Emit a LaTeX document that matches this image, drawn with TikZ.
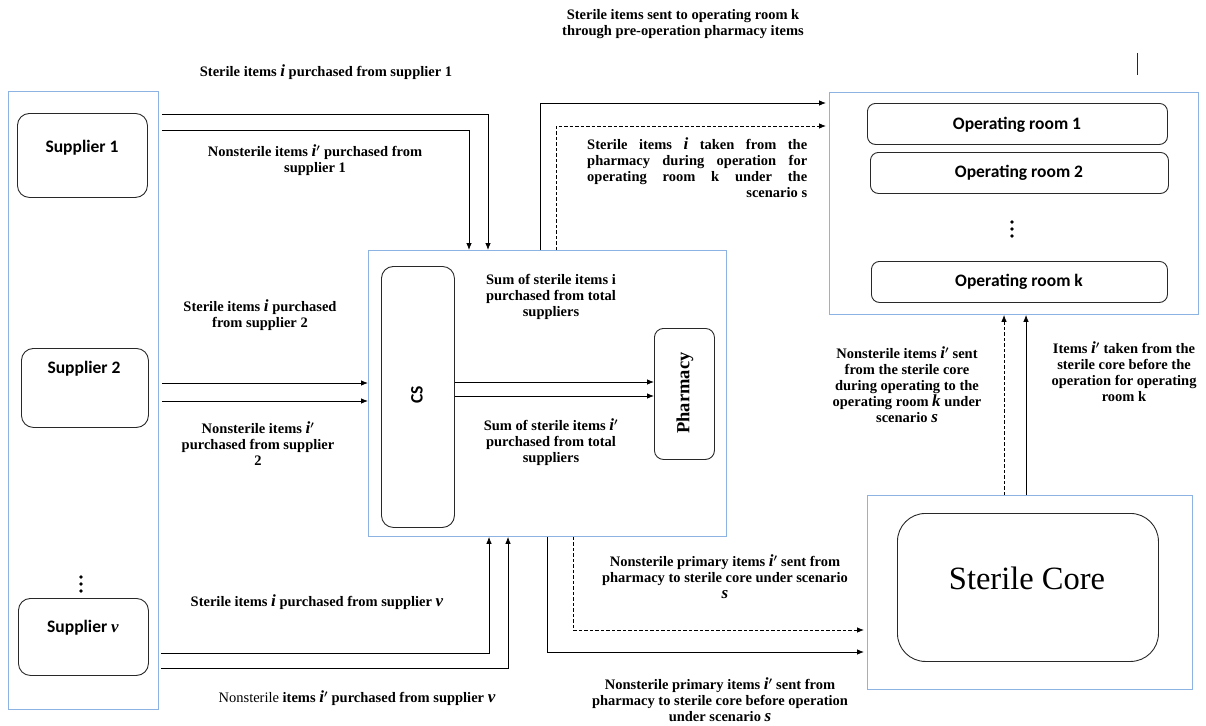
\documentclass[tikz,border=0pt]{standalone}
\usepackage{fontspec}
\setmainfont{Liberation Serif}
\newfontfamily\boxfont{Carlito}
\usetikzlibrary{arrows.meta}
% bold italic symbols used in the flow labels
\newcommand\mv[1]{{\rmfamily\fontsize{17}{16}\selectfont\bfseries\itshape #1}}
\newcommand\ipr{\mv{i}\mbox{\boldmath$'$}}
\definecolor{frameblue}{RGB}{141,179,226}
\definecolor{edge}{RGB}{40,40,40}
\begin{document}
\begin{tikzpicture}[x=1pt,y=-1pt,
  group/.style={draw=frameblue, line width=0.9pt, minimum width=#1, anchor=north west, inner sep=0pt},
  unit/.style={draw=edge, line width=0.9pt, rounded corners=12pt, anchor=north west, inner sep=0pt},
  unitlabel/.style={font=\boxfont\bfseries\fontsize{17.5}{18}\selectfont, inner sep=0pt},
  flowlabel/.style={font=\bfseries\fontsize{14.5}{16}\selectfont, align=center, inner sep=0pt},
  flow/.style={draw=black, line width=0.8pt, -{Latex[length=7pt,width=5.5pt]}},
  flowdash/.style={flow, dash pattern=on 3.5pt off 2pt},
  dot/.style={circle, fill=black, inner sep=0pt, minimum size=3.6pt}
]
\useasboundingbox (0,0) rectangle (1206,725);

% ---------------- suppliers ----------------
\node[group=150pt, minimum height=618pt] (lbox) at (8,91) {};
\node[unit, minimum width=130pt, minimum height=84pt] (sup1) at (17,113) {};
\node[unitlabel] (sup1t) at (82,148) {Supplier 1};
\node[unit, minimum width=127pt, minimum height=79pt] (sup2) at (21,348) {};
\node[unitlabel] (sup2t) at (84,369) {Supplier 2};
\node[unit, minimum width=130pt, minimum height=77pt] (supv) at (18,598) {};
\node[unitlabel] (supvt) at (83,628) {Supplier \mv{v}};
\node[dot] (ld1) at (81,577) {};
\node[dot] (ld2) at (81,584) {};
\node[dot] (ld3) at (81,591) {};

% ---------------- central store ----------------
\node[group=358pt, minimum height=286pt] (csbox) at (368,250) {};
\node[unit, minimum width=73pt, minimum height=261pt] (cs) at (381,266) {};
\node[unitlabel, rotate=90] (cst) at (417,395) {CS};
\node[unit, rounded corners=9pt, minimum width=60pt, minimum height=131pt] (ph) at (654,328) {};
\node[font=\bfseries\fontsize{18.5}{20}\selectfont, rotate=90, inner sep=0pt] (pht) at (685,393) {Pharmacy};

% ---------------- operating rooms ----------------
\node[group=369pt, minimum height=222pt] (orbox) at (829,92) {};
\node[unit, rounded corners=8pt, minimum width=300pt, minimum height=41pt] (or1) at (867,103) {};
\node[unitlabel] (or1t) at (1017,125) {Operating room 1};
\node[unit, rounded corners=8pt, minimum width=298pt, minimum height=41pt] (or2) at (870,152) {};
\node[unitlabel] (or2t) at (1019,173) {Operating room 2};
\node[unit, rounded corners=8pt, minimum width=296pt, minimum height=41pt] (ork) at (871,261) {};
\node[unitlabel] (orkt) at (1019,282) {Operating room k};
\node[dot] (od1) at (1012,222) {};
\node[dot] (od2) at (1012,229) {};
\node[dot] (od3) at (1012,236) {};
\draw[edge, line width=0.9pt] (1137,53) -- (1137,75);

% ---------------- sterile core ----------------
\node[group=325pt, minimum height=194pt] (scbox) at (867,495) {};
\node[unit, rounded corners=28pt, minimum width=261pt, minimum height=148pt] (sc) at (897,513) {};
\node[font=\fontsize{32.5}{34}\selectfont, inner sep=0pt] (sct) at (1027,578) {Sterile Core};

% ---------------- flows from suppliers ----------------
\draw[flow] ([xshift=3pt]lbox.east |- 0,114) -| ([xshift=120pt]csbox.north west);
\draw[flow] ([xshift=3pt]lbox.east |- 0,130) -| ([xshift=101pt]csbox.north west);
\draw[flow] ([xshift=3pt]lbox.east |- 0,383) -- (csbox.west |- 0,383);
\draw[flow] ([xshift=3pt]lbox.east |- 0,401) -- (csbox.west |- 0,401);
\draw[flow] ([xshift=2pt]lbox.east |- 0,653) -| ([xshift=121pt]csbox.south west);
\draw[flow] ([xshift=2pt]lbox.east |- 0,668) -| ([xshift=140pt]csbox.south west);

% ---------------- CS to pharmacy ----------------
\draw[flow] (cs.east |- 0,382) -- (ph.west |- 0,382);
\draw[flow] (cs.east |- 0,396) -- (ph.west |- 0,396);

% ---------------- pharmacy to operating rooms ----------------
\draw[flow] ([xshift=172pt]csbox.north west) |- ([xshift=-3pt]orbox.west |- 0,103);
\draw[flowdash] ([xshift=188pt]csbox.north west) |- ([xshift=-3pt]orbox.west |- 0,126);

% ---------------- pharmacy to sterile core ----------------
\draw[flow] ([xshift=179pt]csbox.south west) |- ([xshift=-3pt]scbox.west |- 0,652);
\draw[flowdash] ([xshift=205pt]csbox.south west) |- ([xshift=-3pt]scbox.west |- 0,630);

% ---------------- sterile core to operating rooms ----------------
\draw[flowdash] ([xshift=137pt]scbox.north west) -- ([xshift=137pt]orbox.south west -| scbox.north west);
\draw[flow] ([xshift=159pt]scbox.north west) -- ([xshift=159pt]orbox.south west -| scbox.north west);

% ---------------- flow labels ----------------
\node[flowlabel] (l1) at (326,72) {Sterile items \mv{i} purchased from supplier 1};
\node[flowlabel] (l2) at (315,160) {Nonsterile items \ipr{} purchased from\\supplier 1};
\node[flowlabel] (l3) at (260,315) {Sterile items \mv{i} purchased\\from supplier 2};
\node[flowlabel] (l4) at (258,444) {Nonsterile items \ipr\\purchased from supplier\\2};
\node[flowlabel] (l5) at (317,602) {Sterile items \mv{i} purchased from supplier \mv{v}};
\node[flowlabel] (l6) at (357,698) {\mdseries Nonsterile \bfseries items \ipr{} purchased from supplier \mv{v}};
\node[flowlabel] (l7) at (551,297) {Sum of sterile items i\\purchased from total\\suppliers};
\node[flowlabel] (l8) at (551,442) {Sum of sterile items \ipr\\purchased from total\\suppliers};
\node[flowlabel] (l9) at (683,24) {Sterile items sent to operating room k\\through pre-operation pharmacy items};
\node[flowlabel, align=left, anchor=north west] (l10) at (587,138) {%
  \makebox[220pt][s]{Sterile items \mv{i} taken from the}\\
  \makebox[220pt][s]{pharmacy during operation for}\\
  \makebox[220pt][s]{operating room k under the}\\
  \makebox[220pt][r]{scenario s}};
\node[flowlabel] (l11) at (907,385) {Nonsterile items \ipr{} sent\\from the sterile core\\during operating to the\\operating room \mv{k} under\\scenario \mv{s}};
\node[flowlabel] (l12) at (1124,372) {Items \ipr{} taken from the\\sterile core before the\\operation for operating\\room k};
\node[flowlabel] (l13) at (725,577) {Nonsterile primary items \ipr{} sent from\\pharmacy to sterile core under scenario\\\mv{s}};
\node[flowlabel] (l14) at (720,700) {Nonsterile primary items \ipr{} sent from\\pharmacy to sterile core before operation\\under scenario \mv{s}};
\end{tikzpicture}
\end{document}
